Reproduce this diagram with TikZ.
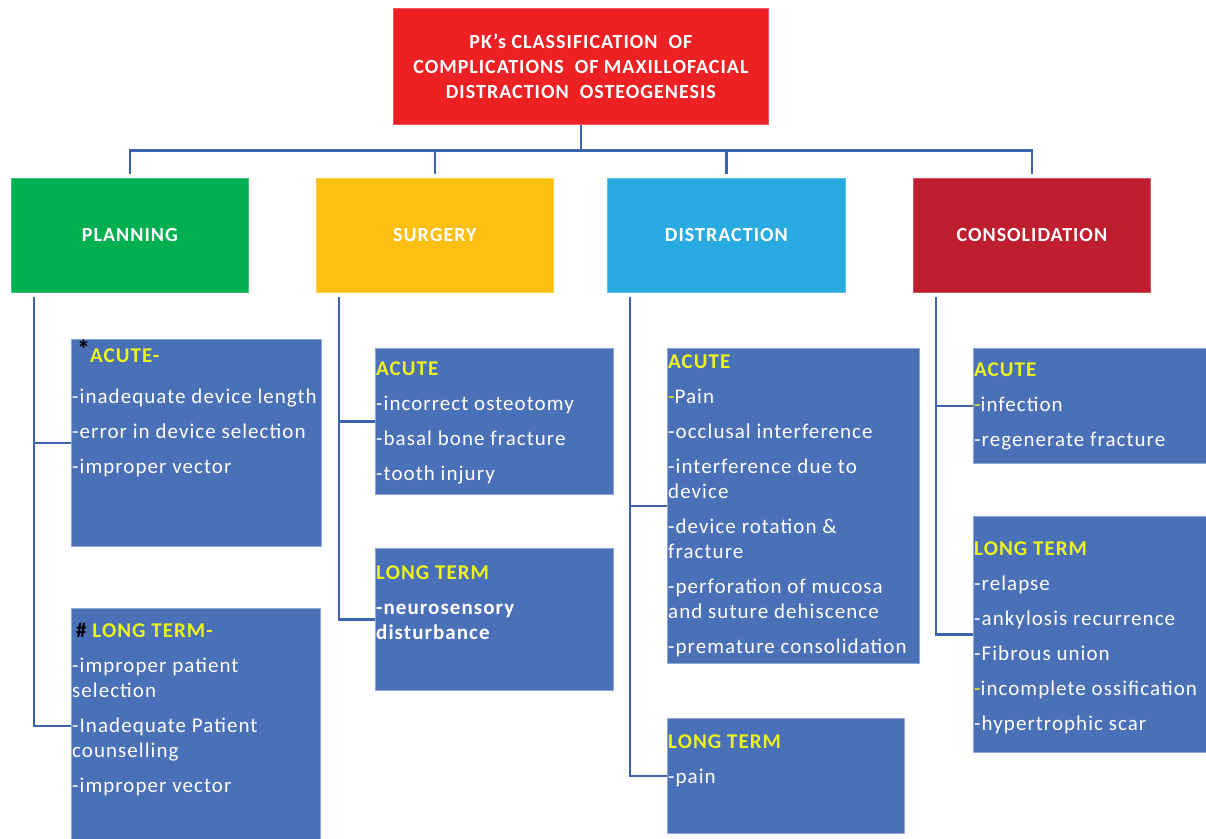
\documentclass[tikz,border=0pt]{standalone}
\usepackage{fontspec}
\setmainfont{Carlito}[LetterSpace=5]
\usetikzlibrary{positioning}
\definecolor{titlered}{HTML}{ED2024}
\definecolor{plangreen}{HTML}{00B050}
\definecolor{surgyellow}{HTML}{FCBF12}
\definecolor{distblue}{HTML}{29ABE2}
\definecolor{consred}{HTML}{BE1E2D}
\definecolor{boxblue}{HTML}{4A70B8}
\definecolor{boxedge}{HTML}{8CA6D8}
\definecolor{linkblue}{HTML}{3D62AE}
\definecolor{hdyellow}{HTML}{ECF41E}
\newcommand{\hd}[1]{{\bfseries\color{hdyellow}#1}}
\newcommand{\yhy}{{\color{hdyellow}-}}
\tikzset{
  cat/.style={fill=#1, draw=#1!75!white, line width=0.8pt, inner sep=0pt,
    minimum width=237pt, minimum height=114pt, anchor=north west,
    text=white, font=\fontsize{20}{25}\selectfont\bfseries},
  box/.style={fill=boxblue, draw=boxedge, line width=0.8pt, inner sep=0pt,
    anchor=north west},
  txt/.style={text=white, align=left, inner sep=0pt, anchor=north west,
    font=\fontsize{21}{25}\selectfont},
  link/.style={draw=linkblue, line width=2.8pt},
}
\begin{document}
\begin{tikzpicture}[x=1pt,y=-1pt]
  \useasboundingbox (0,0) rectangle (1206,838);
  % title and the four stages
  \node[cat=titlered, minimum width=375pt, minimum height=116pt, align=center]
    (title) at (393,8) {PK's CLASSIFICATION\ \ OF\\COMPLICATIONS\ \ OF MAXILLOFACIAL\\DISTRACTION\ \ OSTEOGENESIS};
  \node[cat=plangreen] (plan) at (11,178) {PLANNING};
  \node[cat=surgyellow] (surg) at (316,178) {SURGERY};
  \node[cat=distblue, minimum width=238pt] (dist) at (607,178) {DISTRACTION};
  \node[cat=consred] (cons) at (913,178) {CONSOLIDATION};
  %
  \coordinate (bus) at ([yshift=-26pt]title.south);
  \draw[link] (title.south) -- (bus);
  \draw[link, shorten >=4pt] (bus) -| (plan);
  \draw[link, shorten >=4pt] (bus) -| (surg);
  \draw[link, shorten >=4pt] (bus) -| (dist);
  \draw[link, shorten >=4pt] (bus) -| (cons);
  % planning
  \node[box, minimum width=250pt, minimum height=207pt] (pacute) at (71,339) {};
  \node[txt, below right=10pt and 6pt of pacute.north west] (pacute-t)
    {\smash{\raisebox{4pt}{\fontsize{26}{26}\selectfont\color{black}\bfseries*}}\hd{ACUTE-}};
  \node[txt, below right=50pt and 1pt of pacute.north west] (pacute-i)
    {-inadequate device length\\[10pt]
     -error in device selection\\[10pt]
     -improper vector};
  \node[box, minimum width=249pt, minimum height=235pt] (plong) at (71,608) {};
  \node[txt, below right=15pt and 5pt of plong.north west] (plong-t)
    {{\color{black}\bfseries\#} \hd{LONG TERM-}};
  \node[txt, below right=50pt and 1pt of plong.north west] (plong-i)
    {-improper patient\\
     selection\\[10pt]
     -Inadequate Patient\\
     counselling\\[10pt]
     -improper vector};
  \draw[link] ([xshift=23pt,yshift=-4pt]plan.south west) |- (pacute.west);
  \draw[link] ([xshift=23pt,yshift=-4pt]plan.south west) |- (plong.west);
  % surgery
  \node[box, minimum width=238pt, minimum height=146pt] (sacute) at (375,348) {};
  \node[txt, below right=14pt and 1pt of sacute.north west] (sacute-t)
    {\hd{ACUTE}\\[10pt]
     -incorrect osteotomy\\[10pt]
     -basal bone fracture\\[10pt]
     -tooth injury};
  \node[box, minimum width=238pt, minimum height=142pt] (slong) at (375,548) {};
  \node[txt, below right=18pt and 1pt of slong.north west] (slong-t)
    {\hd{LONG TERM}\\[10pt]
     {\bfseries -neurosensory}\\
     {\bfseries disturbance}};
  \draw[link] ([xshift=23pt,yshift=-4pt]surg.south west) |- (sacute.west);
  \draw[link] ([xshift=23pt,yshift=-4pt]surg.south west) |- (slong.west);
  % distraction
  \node[box, minimum width=252pt, minimum height=315pt] (dacute) at (667,348) {};
  \node[txt, below right=7pt and 1pt of dacute.north west] (dacute-t)
    {\hd{ACUTE}\\[10pt]
     \yhy Pain\\[10pt]
     -occlusal interference\\[10pt]
     -interference due to\\
     device\\[10pt]
     -device rotation \&\\
     fracture\\[10pt]
     -perforation of mucosa\\
     and suture dehiscence\\[10pt]
     -premature consolidation};
  \node[box, minimum width=237pt, minimum height=115pt] (dlong) at (667,718) {};
  \node[txt, below right=17pt and 1pt of dlong.north west] (dlong-t)
    {\hd{LONG TERM}\\[10pt]
     -pain};
  \draw[link] ([xshift=23pt,yshift=-4pt]dist.south west) |- (dacute.west);
  \draw[link] ([xshift=23pt,yshift=-4pt]dist.south west) |- (dlong.west);
  % consolidation
  \node[box, minimum width=240pt, minimum height=115pt] (cacute) at (973,348) {};
  \node[txt, below right=15pt and 1pt of cacute.north west] (cacute-t)
    {\hd{ACUTE}\\[10pt]
     \yhy infection\\[10pt]
     -regenerate fracture};
  \node[box, minimum width=240pt, minimum height=236pt] (clong) at (973,516) {};
  \node[txt, below right=26pt and 1pt of clong.north west] (clong-t)
    {\hd{LONG TERM}\\[10pt]
     -relapse\\[10pt]
     -ankylosis recurrence\\[10pt]
     -Fibrous union\\[10pt]
     \yhy incomplete ossification\\[10pt]
     -hypertrophic scar};
  \draw[link] ([xshift=23pt,yshift=-4pt]cons.south west) |- (cacute.west);
  \draw[link] ([xshift=23pt,yshift=-4pt]cons.south west) |- (clong.west);
\end{tikzpicture}
\end{document}
